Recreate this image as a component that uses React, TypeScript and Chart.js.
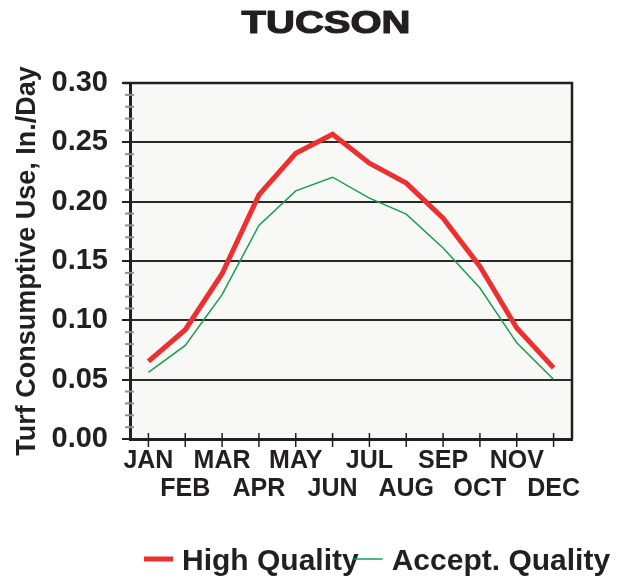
import React, { useEffect, useRef } from "react";
import { Chart, registerables } from "chart.js";

Chart.register(...registerables);

const months = ["JAN", "FEB", "MAR", "APR", "MAY", "JUN", "JUL", "AUG", "SEP", "OCT", "NOV", "DEC"];
const highQuality = [0.0655, 0.0921, 0.1393, 0.2057, 0.2408, 0.2568, 0.2324, 0.2156, 0.1861, 0.1454, 0.0936, 0.0599];
const acceptQuality = [0.0562, 0.0789, 0.1216, 0.1799, 0.2091, 0.2206, 0.203, 0.1895, 0.1609, 0.1272, 0.081, 0.0501];
const seriesNames = ["High Quality", "Accept. Quality"];
const chartTitle = "TUCSON";
const yAxisTitle = "Turf Consumptive Use, In./Day";
const yMin = 0;
const yMax = 0.3;
const yStep = 0.01;

const TEXT = "#231f20";
const FONT = "'Liberation Sans', Arial, sans-serif";

const isMajor = (v: number) => Math.round(v * 100) % 5 === 0;

export default function App() {
  const ref = useRef<HTMLCanvasElement | null>(null);

  useEffect(() => {
    document.body.style.margin = "0";
    const canvas = ref.current;
    if (!canvas) return;

    const bgPlugin = {
      id: "bgPlugin",
      beforeDraw(chart: any) {
        const { ctx, chartArea: a } = chart;
        ctx.save();
        ctx.fillStyle = "#f8f8f6";
        ctx.fillRect(a.left, a.top, a.right - a.left, a.bottom - a.top);
        ctx.restore();
      },
    };

    const framePlugin = {
      id: "framePlugin",
      afterDatasetsDraw(chart: any) {
        const { ctx, chartArea: a } = chart;
        const xs = chart.scales.x;
        const ys = chart.scales.y;
        ctx.save();
        ctx.strokeStyle = "#231f20";
        ctx.lineWidth = 2.5;
        ctx.beginPath();
        ctx.moveTo(a.left - 7, a.top);
        ctx.lineTo(a.right, a.top);
        ctx.lineTo(a.right, a.bottom);
        ctx.stroke();
        ctx.lineWidth = 1.5;
        xs.ticks.forEach((_t: any, i: number) => {
          const x = xs.getPixelForTick(i);
          ctx.beginPath();
          ctx.moveTo(x, a.bottom - 6);
          ctx.lineTo(x, a.bottom + 8);
          ctx.stroke();
        });
        ctx.strokeStyle = "#8a949c";
        ctx.lineWidth = 2;
        ys.ticks.forEach((t: any) => {
          if (isMajor(t.value)) return;
          const y = ys.getPixelForValue(t.value);
          ctx.beginPath();
          ctx.moveTo(a.left - 5, y);
          ctx.lineTo(a.left + 4, y);
          ctx.stroke();
        });
        ctx.restore();
      },
    };

    const titlePlugin = {
      id: "titlePlugin",
      afterDraw(chart: any) {
        const { ctx } = chart;
        ctx.save();
        ctx.font = `bold 32px ${FONT}`;
        ctx.fillStyle = TEXT;
        ctx.strokeStyle = TEXT;
        ctx.lineWidth = 1.2;
        ctx.lineJoin = "round";
        ctx.textAlign = "center";
        ctx.textBaseline = "alphabetic";
        ctx.translate(326, 33);
        ctx.scale(1.25, 1);
        ctx.fillText(chartTitle, 0, 0);
        ctx.strokeText(chartTitle, 0, 0);
        ctx.restore();
      },
    };

    const legendPlugin = {
      id: "legendPlugin",
      afterDraw(chart: any) {
        const { ctx } = chart;
        const y = chart.height - 19;
        let x = 144;
        ctx.save();
        ctx.font = `bold 30px ${FONT}`;
        ctx.textBaseline = "alphabetic";
        ctx.textAlign = "left";
        chart.data.datasets.forEach((ds: any) => {
          ctx.strokeStyle = ds.borderColor;
          ctx.lineWidth = ds.borderWidth;
          ctx.beginPath();
          ctx.moveTo(x, y);
          ctx.lineTo(x + 29, y);
          ctx.stroke();
          const tx = x + 38;
          ctx.fillStyle = TEXT;
          ctx.fillText(ds.label, tx, y + 11);
          x = tx + ctx.measureText(ds.label).width - 5;
        });
        ctx.restore();
      },
    };

    const chart = new Chart(canvas, {
      type: "line",
      data: {
        labels: months.map((m, i) => (i % 2 === 0 ? [m, ""] : ["", m])),
        datasets: [
          {
            label: seriesNames[0],
            data: highQuality,
            borderColor: "#ec3030",
            borderWidth: 5,
            pointRadius: 0,
            tension: 0,
            fill: false,
          },
          {
            label: seriesNames[1],
            data: acceptQuality,
            borderColor: "#1a9e4e",
            borderWidth: 1.5,
            pointRadius: 0,
            tension: 0,
            fill: false,
          },
        ],
      },
      options: {
        animation: false,
        responsive: false,
        devicePixelRatio: 1,
        layout: { padding: { left: 0, right: 53, top: 83, bottom: 59 } },
        plugins: {
          legend: { display: false },
          title: { display: false },
          tooltip: { enabled: false },
        },
        scales: {
          x: {
            type: "category",
            offset: true,
            grid: {
              display: true,
              drawOnChartArea: false,
              drawTicks: true,
              tickLength: 8,
              color: "transparent",
            },
            border: { display: true, color: "#231f20", width: 3 },
            ticks: {
              autoSkip: false,
              maxRotation: 0,
              padding: 0,
              color: TEXT,
              font: { family: FONT, size: 25, weight: "bold", lineHeight: 1.12 },
            },
            afterFit(scale: any) {
              scale.height = 80;
            },
          },
          y: {
            min: yMin,
            max: yMax,
            grid: {
              drawTicks: true,
              tickLength: 8,
              lineWidth: 2,
              color: (c: any) => (c.tick && isMajor(c.tick.value) ? "#2a2a2a" : "transparent"),
              tickColor: (c: any) => (c.tick && isMajor(c.tick.value) ? "#231f20" : "transparent"),
            },
            border: { display: true, color: "#231f20", width: 3 },
            ticks: {
              stepSize: yStep,
              autoSkip: false,
              padding: 14,
              color: TEXT,
              font: { family: FONT, size: 29, weight: "bold" },
              callback: (v: any) => (isMajor(Number(v)) ? Number(v).toFixed(2) : ""),
            },
            title: {
              display: true,
              text: yAxisTitle,
              color: TEXT,
              font: { family: FONT, size: 27, weight: "bold" },
              padding: { top: 11, bottom: 0 },
            },
            afterFit(scale: any) {
              scale.width = 130;
            },
          },
        },
      },
      plugins: [bgPlugin, framePlugin, titlePlugin, legendPlugin],
    } as any);

    return () => chart.destroy();
  }, []);

  return (
    <div style={{ width: 625, height: 578 }}>
      <canvas ref={ref} width={625} height={578} />
    </div>
  );
}
